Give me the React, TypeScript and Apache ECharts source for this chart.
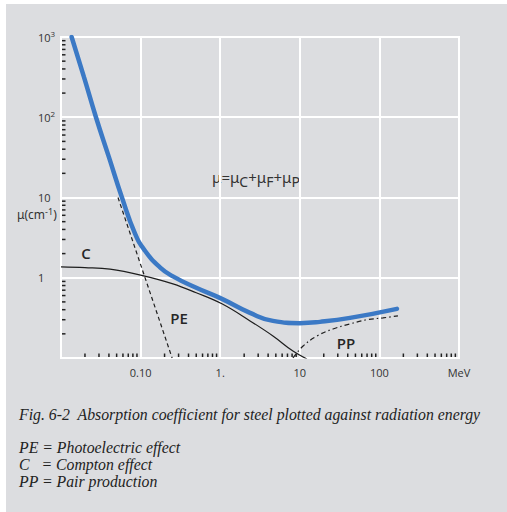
import React, { useEffect, useRef } from "react";
import * as echarts from "echarts";

// Total absorption coefficient (blue)
const totalEnergy = [0.0136, 0.01945, 0.0275, 0.0401, 0.0583, 0.0851, 0.1135, 0.175, 0.255, 0.5, 1.05, 2.37, 4.6, 10, 17.9, 42.7, 166];
const totalMu = [1000, 316, 100, 31.6, 10, 3.55, 2.17, 1.35, 1.04, 0.75, 0.546, 0.365, 0.29, 0.272, 0.282, 0.316, 0.41];

// Compton effect (C)
const comptonEnergy = [0.01, 0.02, 0.0413, 0.1, 0.255, 0.5, 1.05, 2.37, 4.6, 8.2, 12.3];
const comptonMu = [1.37, 1.34, 1.28, 1.08, 0.84, 0.65, 0.473, 0.29, 0.188, 0.122, 0.097];

// Photoelectric effect (PE)
const photoEnergy = [0.052, 0.249];
const photoMu = [10, 0.1];

// Pair production (PP)
const pairEnergy = [8.2, 11.0, 16.4, 26.1, 42.7, 69.8, 111, 171];
const pairMu = [0.1, 0.141, 0.188, 0.23, 0.266, 0.3, 0.316, 0.335];

// Axis tick labels by decade exponent
const xTickLabels: Record<string, string> = { "-2": "", "-1": "0.10", "0": "1.", "1": "10", "2": "100", "3": "MeV" };
const yTickLabels: Record<string, string> = { "-1": "", "0": "1", "1": "10", "2": "10{sup|2}", "3": "10{sup|3}" };
const xDecades = [-2, -1, 0, 1, 2];
const yDecades = [-1, 0, 1, 2];
const minorMultipliers = [2, 3, 4, 5, 6, 7, 8, 9];

const captionTitle = "Fig. 6-2  Absorption coefficient for steel plotted against radiation energy";
const captionLines = ["PE = Photoelectric effect", "C   = Compton effect", "PP = Pair production"];

const SANS = "'Open Sans', 'DejaVu Sans', sans-serif";
const GREEK = "'Noto Sans', 'DejaVu Sans', sans-serif";
const SERIF = "'Liberation Serif', 'DejaVu Serif', serif";

function zip(a: number[], b: number[]) {
  return a.map((v, i) => [v, b[i]]);
}

export default function App() {
  const ref = useRef<HTMLDivElement>(null);
  useEffect(() => {
    if (!ref.current) return;
    const chart = echarts.init(ref.current, undefined, { renderer: "svg" });

    const minorData: number[][] = [];
    xDecades.forEach((k) => minorMultipliers.forEach((m) => minorData.push([m * Math.pow(10, k), 0.1, 0])));
    yDecades.forEach((k) => minorMultipliers.forEach((m) => minorData.push([0.01, m * Math.pow(10, k), 1])));

    const white = { color: "#ffffff", width: 2 };

    chart.setOption({
      animation: false,
      backgroundColor: "transparent",
      grid: { left: 61, top: 37, right: 48, bottom: 154, show: true, borderColor: "#ffffff", borderWidth: 2, backgroundColor: "transparent" },
      xAxis: {
        type: "log",
        logBase: 10,
        min: 0.01,
        max: 1000,
        axisLine: { show: true, lineStyle: white },
        axisTick: { show: false },
        splitLine: { show: true, lineStyle: white },
        axisLabel: {
          show: true,
          showMinLabel: true,
          showMaxLabel: true,
          margin: 9,
          color: "#333",
          fontSize: 11,
          fontFamily: SANS,
          formatter: (v: number) => xTickLabels[String(Math.round(Math.log10(v)))] ?? "",
        },
      },
      yAxis: {
        type: "log",
        logBase: 10,
        min: 0.1,
        max: 1000,
        axisLine: { show: true, lineStyle: white },
        axisTick: { show: false },
        splitLine: { show: true, lineStyle: white },
        axisLabel: {
          show: true,
          showMinLabel: true,
          showMaxLabel: true,
          margin: 23,
          align: "left",
          color: "#333",
          fontSize: 11,
          fontFamily: SANS,
          formatter: (v: number) => yTickLabels[String(Math.round(Math.log10(v)))] ?? "",
          rich: {
            sup: { fontSize: 8, color: "#333", fontFamily: SANS, padding: [0, 0, 8, 0] },
          },
        },
      },
      series: [
        {
          type: "custom",
          encode: { x: 0, y: 1 },
          data: minorData,
          clip: false,
          silent: true,
          z: 5,
          renderItem: (_params: any, api: any) => {
            const p = api.coord([api.value(0), api.value(1)]);
            const kind = api.value(2);
            const shape =
              kind === 0
                ? { x1: p[0], y1: p[1] - 1, x2: p[0], y2: p[1] - 4.5 }
                : { x1: p[0] + 1, y1: p[1], x2: p[0] + 4.5, y2: p[1] };
            return { type: "line", shape, style: { stroke: "#222", lineWidth: 1.5 } };
          },
        },
        {
          name: "C",
          type: "line",
          data: zip(comptonEnergy, comptonMu),
          smooth: 0.4,
          showSymbol: false,
          lineStyle: { color: "#1e1e1e", width: 1.2 },
          z: 3,
        },
        {
          name: "PE",
          type: "line",
          data: zip(photoEnergy, photoMu),
          showSymbol: false,
          lineStyle: { color: "#1e1e1e", width: 1.2, type: [4, 3] },
          z: 3,
        },
        {
          name: "PP",
          type: "line",
          data: zip(pairEnergy, pairMu),
          smooth: 0.4,
          showSymbol: false,
          lineStyle: { color: "#1e1e1e", width: 1.2, type: [5, 3, 1.5, 3] },
          z: 3,
        },
        {
          name: "total",
          type: "line",
          data: zip(totalEnergy, totalMu),
          smooth: 0.5,
          showSymbol: false,
          lineStyle: { color: "#3b79c5", width: 4.5, cap: "round" },
          z: 4,
        },
      ],
      graphic: [
        {
          type: "text",
          x: 17,
          y: 214,
          style: {
            text: "{a|μ(cm}{b|-1}{a|)}",
            verticalAlign: "middle",
            align: "left",
            rich: {
              a: { fontSize: 12, fontFamily: GREEK, fill: "#333" },
              b: { fontSize: 9, fontFamily: GREEK, fill: "#333", padding: [0, 0, 6, 0] },
            },
          },
        },
        {
          type: "text",
          x: 212,
          y: 177,
          style: {
            text: "{m|μ=μ}{s|C}{m|+μ}{s|F}{m|+μ}{s|P}",
            verticalAlign: "middle",
            align: "left",
            rich: {
              m: { fontSize: 15, fontFamily: GREEK, fill: "#333" },
              s: { fontSize: 14, fontFamily: GREEK, fill: "#333", padding: [8, 0, 0, 0] },
            },
          },
        },
        { type: "text", x: 86, y: 253, style: { text: "C", font: `600 15px ${SANS}`, fill: "#262626", align: "center", verticalAlign: "middle" } },
        { type: "text", x: 179, y: 318, style: { text: "PE", font: `600 15px ${SANS}`, fill: "#262626", align: "center", verticalAlign: "middle" } },
        { type: "text", x: 346, y: 343, style: { text: "PP", font: `600 15px ${SANS}`, fill: "#262626", align: "center", verticalAlign: "middle" } },
        { type: "text", x: 19, y: 414, style: { text: captionTitle, font: `italic 15.8px ${SERIF}`, fill: "#222", align: "left", verticalAlign: "middle" } },
        ...captionLines.map((t, i) => ({
          type: "text",
          x: 19,
          y: 447 + i * 17,
          style: { text: t, font: `italic 15.8px ${SERIF}`, fill: "#222", align: "left", verticalAlign: "middle" },
        })),
      ],
    });
    return () => chart.dispose();
  }, []);

  return (
    <div style={{ position: "fixed", left: 0, top: 0, width: 507, height: 512, background: "#ffffff" }}>
      <div style={{ position: "absolute", left: 6, top: 4, width: 501, height: 508, background: "#dcdde0" }} />
      <div ref={ref} style={{ position: "absolute", left: 0, top: 0, width: 507, height: 512 }} />
    </div>
  );
}
